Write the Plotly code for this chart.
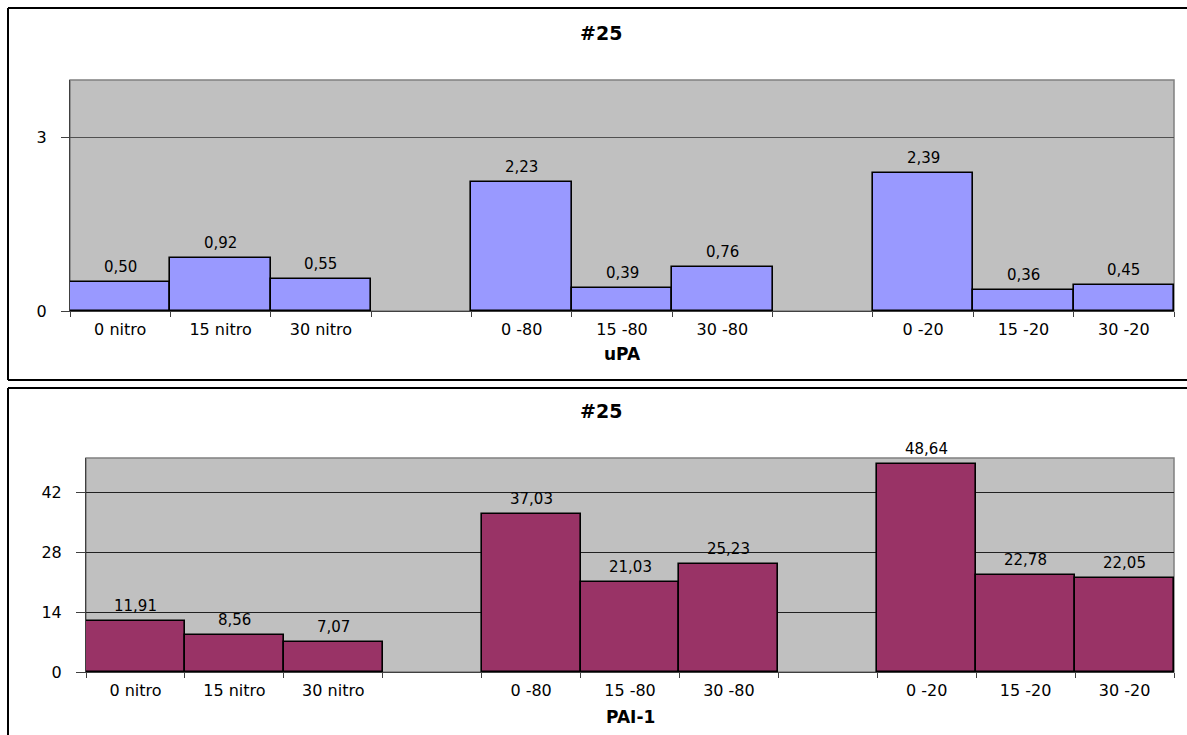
import plotly.graph_objects as go

# Categories (blank entries are spacer slots between the groups)
categories = ["0 nitro", "15 nitro", "30 nitro", " ",
              "0 -80", "15 -80", "30 -80", "  ",
              "0 -20", "15 -20", "30 -20"]
upa_values = [0.50, 0.92, 0.55, None, 2.23, 0.39, 0.76, None, 2.39, 0.36, 0.45]
pai_values = [11.91, 8.56, 7.07, None, 37.03, 21.03, 25.23, None, 48.64, 22.78, 22.05]
upa_ticks = [0, 3]
pai_ticks = [0, 14, 28, 42]

W, H = 1187, 735
H_REF = 725  # vertical pixel scale used for placing elements
FONT = "DejaVu Sans, Liberation Sans, Arial, sans-serif"


def px_x(v):
    return v / W


def px_y(v):
    return 1 - v / H_REF


fig = go.Figure()

fig.add_trace(go.Bar(x=categories, y=upa_values, xaxis="x", yaxis="y",
                     marker=dict(color="#9999FF", line=dict(color="black", width=1.6)),
                     hoverinfo="x+y"))
fig.add_trace(go.Bar(x=categories, y=pai_values, xaxis="x2", yaxis="y2",
                     marker=dict(color="#993366", line=dict(color="black", width=1.6)),
                     hoverinfo="x+y"))

xcommon = dict(type="category", categoryorder="array", categoryarray=categories,
               ticks="outside", tickson="boundaries", ticklen=5, tickcolor="#404040",
               showline=True, linecolor="#404040", linewidth=1,
               tickfont=dict(size=16), ticklabelstandoff=4,
               showgrid=False, zeroline=False, fixedrange=True)
ycommon = dict(ticks="outside", tickcolor="#404040",
               showline=True, linecolor="#404040", linewidth=1,
               showgrid=True, gridwidth=1, tickfont=dict(size=16),
               ticklabelstandoff=11, zeroline=False, fixedrange=True)

fig.update_layout(
    width=W, height=H,
    margin=dict(l=0, r=0, t=0, b=0),
    paper_bgcolor="white",
    plot_bgcolor="#C0C0C0",
    showlegend=False,
    bargap=0,
    font=dict(family=FONT, color="black", size=16),
    xaxis=dict(domain=[px_x(70), px_x(1174)], anchor="y", **xcommon),
    yaxis=dict(domain=[px_y(311), px_y(80)], anchor="x", range=[0, 4],
               tickvals=upa_ticks, ticktext=[str(t) for t in upa_ticks],
               ticklen=8, gridcolor="#505050", **ycommon),
    xaxis2=dict(domain=[px_x(86), px_x(1174)], anchor="y2", **xcommon),
    yaxis2=dict(domain=[px_y(672), px_y(458)], anchor="x2", range=[0, 50],
                tickvals=pai_ticks, ticktext=[str(t) for t in pai_ticks],
                ticklen=9, gridcolor="#202020", **ycommon),
)

annotations = []
# Value labels above each bar
for xa, ya, vals in (("x", "y", upa_values), ("x2", "y2", pai_values)):
    for cat, v in zip(categories, vals):
        if v is None:
            continue
        annotations.append(dict(x=cat, y=v, xref=xa, yref=ya,
                                text=f"{v:.2f}".replace(".", ","),
                                showarrow=False, yanchor="bottom", yshift=4,
                                font=dict(size=15, family=FONT, color="black")))

# Panel titles and axis titles
for xc, yc, txt, sz in ((601, 33, "#25", 19), (622, 354, "uPA", 17),
                        (601, 411, "#25", 19), (630, 717, "PAI-1", 17)):
    annotations.append(dict(x=px_x(xc), y=px_y(yc), xref="paper", yref="paper",
                            text=f"<b>{txt}</b>", showarrow=False,
                            xanchor="center", yanchor="middle",
                            font=dict(size=sz, family=FONT)))
fig.update_layout(annotations=annotations)


def frame_lines(top, bottom):
    """Left, top and bottom edges of a panel frame that runs off the right side."""
    edge = dict(xref="paper", yref="paper", type="line",
                line=dict(color="black", width=2), layer="below")
    out = [dict(x0=px_x(8), x1=px_x(8), y0=px_y(bottom), y1=px_y(top), **edge),
           dict(x0=px_x(8), x1=1, y0=px_y(top), y1=px_y(top), **edge)]
    if bottom is not None and bottom < H_REF:
        out.append(dict(x0=px_x(8), x1=1, y0=px_y(bottom), y1=px_y(bottom), **edge))
    return out


shapes = frame_lines(8, 380) + frame_lines(388, 800) + [
    # plot area borders
    dict(type="rect", xref="x domain", yref="y domain", x0=0, x1=1, y0=0, y1=1,
         line=dict(color="#808080", width=1.5), layer="below"),
    dict(type="rect", xref="x2 domain", yref="y2 domain", x0=0, x1=1, y0=0, y1=1,
         line=dict(color="#808080", width=1.5), layer="below"),
]
fig.update_layout(shapes=shapes)

fig.write_html("out.html")
